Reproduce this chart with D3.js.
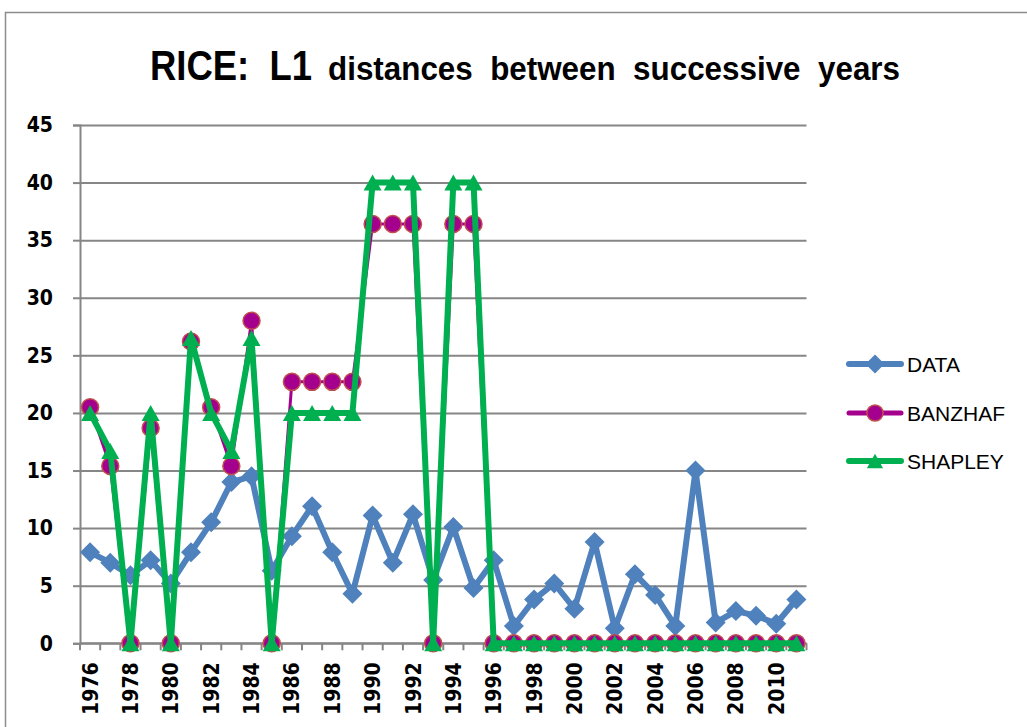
<!DOCTYPE html>
<html>
<head>
<meta charset="utf-8">
<script src="https://cdn.jsdelivr.net/npm/d3@7"></script>
<style>
  html, body { margin: 0; padding: 0; background: #ffffff; }
  svg { display: block; }
</style>
</head>
<body>
<svg id="chart" width="1027" height="727"></svg>
<script>
const years = d3.range(1976, 2012).map(String);
const dataValues = [7.9, 7.0, 5.9, 7.2, 5.2, 7.9, 10.5, 14.0, 14.5, 6.3, 9.3, 11.9, 7.9, 4.3,
  11.1, 7.0, 11.2, 5.5, 10.1, 4.8, 7.2, 1.5, 3.8, 5.2, 3.0, 8.8, 1.3, 6.0, 4.2, 1.5,
  15.0, 1.8, 2.8, 2.4, 1.7, 3.8];
const banzhafValues = [20.5, 15.4, 0, 18.7, 0, 26.2, 20.5, 15.4, 28.0, 0, 22.7, 22.7, 22.7, 22.7,
  36.4, 36.4, 36.4, 0, 36.4, 36.4, 0, 0, 0, 0, 0, 0, 0, 0, 0, 0,
  0, 0, 0, 0, 0, 0];
const shapleyValues = [20, 16.7, 0, 20, 0, 26.5, 20, 16.7, 26.5, 0, 20, 20, 20, 20,
  40, 40, 40, 0, 40, 40, 0, 0, 0, 0, 0, 0, 0, 0, 0, 0,
  0, 0, 0, 0, 0, 0];
const seriesNames = ["DATA", "BANZHAF", "SHAPLEY"];
const yTicks = [0, 5, 10, 15, 20, 25, 30, 35, 40, 45];
const titleMain = "RICE:  L1";
const titleSub = "distances  between  successive  years";

(function () {
const svg = d3.select("#chart");
const pLeft = 80, pRight = 806.5, pTop = 125, pBottom = 643.3;
const gridColor = "#868686";
const tickFont = "'DejaVu Sans Condensed', 'DejaVu Sans', sans-serif";

// outer border
svg.append("rect").attr("x", 5.5).attr("y", 12.5).attr("width", 1100).attr("height", 800)
  .attr("fill", "none").attr("stroke", "#8c8c8c").attr("stroke-width", 1.5);

// title
svg.append("text").attr("x", 150).attr("y", 79.5)
  .attr("font-family", "Liberation Sans, Arial, sans-serif").attr("font-weight", "bold")
  .attr("font-size", 43).attr("textLength", 162).attr("lengthAdjust", "spacingAndGlyphs")
  .style("white-space", "pre")
  .attr("fill", "#000").text(titleMain);
svg.append("text").attr("x", 328).attr("y", 79.5)
  .attr("font-family", "Liberation Sans, Arial, sans-serif").attr("font-weight", "bold")
  .attr("font-size", 33).attr("textLength", 572).attr("lengthAdjust", "spacingAndGlyphs")
  .style("white-space", "pre")
  .attr("fill", "#000").text(titleSub);

const x = d3.scaleBand().domain(years).range([pLeft, pRight]).padding(0);
const y = d3.scaleLinear().domain([0, 45]).range([pBottom, pTop]);
const cx = d => x(d) + x.bandwidth() / 2;

// gridlines
const grid = svg.append("g").attr("transform", `translate(${pLeft},0)`)
  .call(d3.axisLeft(y).tickValues(yTicks).tickSize(-(pRight - pLeft)).tickFormat(""));
grid.select(".domain").remove();
grid.selectAll("line").attr("stroke", gridColor).attr("stroke-width", 2);

// y axis
const yAxis = svg.append("g").attr("transform", `translate(${pLeft},0)`)
  .call(d3.axisLeft(y).tickValues(yTicks).tickSize(7).tickPadding(20));
yAxis.select(".domain").attr("stroke", gridColor).attr("stroke-width", 2);
yAxis.selectAll("line").attr("stroke", gridColor).attr("stroke-width", 2);
yAxis.selectAll("text").attr("font-family", tickFont).attr("font-weight", "bold")
  .attr("font-size", 21).attr("fill", "#000");

// x axis line and tick marks at category boundaries
svg.append("line").attr("x1", pLeft).attr("x2", pRight).attr("y1", pBottom).attr("y2", pBottom)
  .attr("stroke", gridColor).attr("stroke-width", 2);
svg.append("g").selectAll("line").data(years.concat(["end"])).join("line")
  .attr("x1", d => d === "end" ? pRight : x(d)).attr("x2", d => d === "end" ? pRight : x(d))
  .attr("y1", pBottom).attr("y2", pBottom + 7)
  .attr("stroke", gridColor).attr("stroke-width", 2);

const xAxis = svg.append("g").attr("transform", `translate(0,${pBottom})`)
  .call(d3.axisBottom(x).tickSize(0).tickFormat((d, i) => i % 2 === 0 ? d : ""));
xAxis.select(".domain").remove();
xAxis.selectAll("text")
  .attr("transform", "rotate(-90)").attr("x", -19).attr("y", 0).attr("dy", "0.36em")
  .style("text-anchor", "end")
  .attr("font-family", tickFont).attr("font-weight", "bold")
  .attr("font-size", 21).attr("fill", "#000");

const colors = { DATA: "#4F81BD", BANZHAF: "#A5008D", SHAPLEY: "#00B050" };
const widths = { DATA: 6, BANZHAF: 3, SHAPLEY: 6 };
const seriesData = { DATA: dataValues, BANZHAF: banzhafValues, SHAPLEY: shapleyValues };

const diamond = d3.symbol().type(d3.symbolSquare).size(200)();
function drawMarker(g, name, px, py, scale = 1) {
  if (name === "DATA") {
    g.append("path").attr("d", diamond)
      .attr("transform", `translate(${px},${py}) rotate(45) scale(${scale})`)
      .attr("fill", colors.DATA);
  } else if (name === "BANZHAF") {
    g.append("circle").attr("cx", px).attr("cy", py).attr("r", 8.5 * scale)
      .attr("fill", "#A5008D").attr("stroke", "#C0504D").attr("stroke-width", 1.5);
  } else {
    const w = 9 * scale, h = 8 * scale;
    g.append("path").attr("d", `M${px},${py - h}L${px + w},${py + h}L${px - w},${py + h}Z`)
      .attr("fill", colors.SHAPLEY);
  }
}

seriesNames.forEach(name => {
  const vals = seriesData[name];
  const pts = years.map((yr, i) => [cx(yr), y(vals[i])]);
  const g = svg.append("g");
  g.append("path").attr("d", d3.line()(pts)).attr("fill", "none")
    .attr("stroke", colors[name]).attr("stroke-width", widths[name])
    .attr("stroke-linejoin", "round").attr("stroke-linecap", "round");
  pts.forEach(p => drawMarker(g, name, p[0], p[1]));
});

// legend
const legendY = [364, 413, 461];
seriesNames.forEach((name, i) => {
  const g = svg.append("g");
  g.append("line").attr("x1", 849).attr("x2", 901).attr("y1", legendY[i]).attr("y2", legendY[i])
    .attr("stroke", colors[name]).attr("stroke-width", name === "BANZHAF" ? 5 : 6)
    .attr("stroke-linecap", "round");
  drawMarker(g, name, 875, legendY[i], name === "SHAPLEY" ? 0.9 : 0.95);
  g.append("text").attr("x", 907).attr("y", legendY[i]).attr("dy", "0.36em")
    .attr("font-family", "Liberation Sans, Arial, sans-serif").attr("font-size", 21)
    .attr("fill", "#000").text(name);
});
})();
</script>
</body>
</html>
